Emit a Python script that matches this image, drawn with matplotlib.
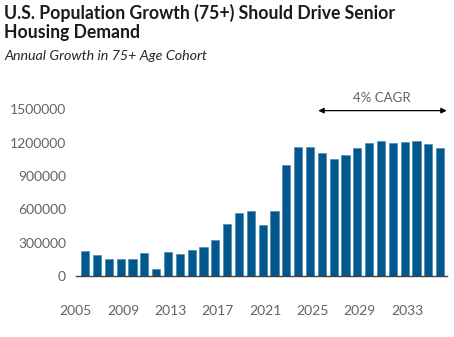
import numpy as np
import matplotlib
matplotlib.use("Agg")
import matplotlib.pyplot as plt

years = list(range(2005, 2036))
growth = [225000, 186000, 150000, 150000, 150000, 207000, 66000, 216000,
          201000, 234000, 261000, 324000, 468000, 564000, 582000, 459000,
          582000, 996000, 1164000, 1164000, 1107000, 1056000, 1089000,
          1149000, 1197000, 1215000, 1197000, 1206000, 1215000, 1191000,
          1149000]
tick_years = [2005, 2009, 2013, 2017, 2021, 2025, 2029, 2033]
y_ticks = [0, 300000, 600000, 900000, 1200000, 1500000]

title = "U.S. Population Growth (75+) Should Drive Senior\nHousing Demand"
subtitle = "Annual Growth in 75+ Age Cohort"

plt.rcParams['font.family'] = ['Lato', 'DejaVu Sans']

fig = plt.figure(figsize=(4.54, 3.37), dpi=100)
ax = fig.add_axes([0.1667, 0.181, 0.818, 0.561])

ax.bar(years, growth, width=0.68, color='#00588e', edgecolor='#3f80ad', linewidth=0.4)

ax.set_xlim(2004.64, 2035.58)
ax.set_ylim(0, 1700000)
ax.set_yticks(y_ticks)
ax.set_yticklabels([str(v) for v in y_ticks])
# year labels sit a bit left of their bars in the original
ax.set_xticks([y - 0.8 for y in tick_years])
ax.set_xticklabels([str(y) for y in tick_years])
ax.tick_params(length=0, labelsize=10, colors='#636363', pad=7)
ax.tick_params(axis='x', pad=21)

for s in ['top', 'right', 'left']:
    ax.spines[s].set_visible(False)
ax.spines['bottom'].set_color('#404040')
ax.spines['bottom'].set_linewidth(1.0)

ax.annotate('', xy=(2035.55, 1487000), xytext=(2024.7, 1487000),
            arrowprops=dict(arrowstyle='<|-|>', color='black', lw=0.9,
                            mutation_scale=8, shrinkA=0, shrinkB=0))
ax.text(2030.1, 1545000, '4% CAGR', ha='center', va='bottom', fontsize=9.5,
        color='#636363')

fig.text(0.009, 0.988, title, ha='left', va='top', fontsize=12.7,
         fontweight='bold', color='#1a1a1a', linespacing=1.15)
fig.text(0.009, 0.852, subtitle, ha='left', va='top', fontsize=10.3,
         style='italic', color='#262626')

fig.savefig('out.png', dpi=100)
